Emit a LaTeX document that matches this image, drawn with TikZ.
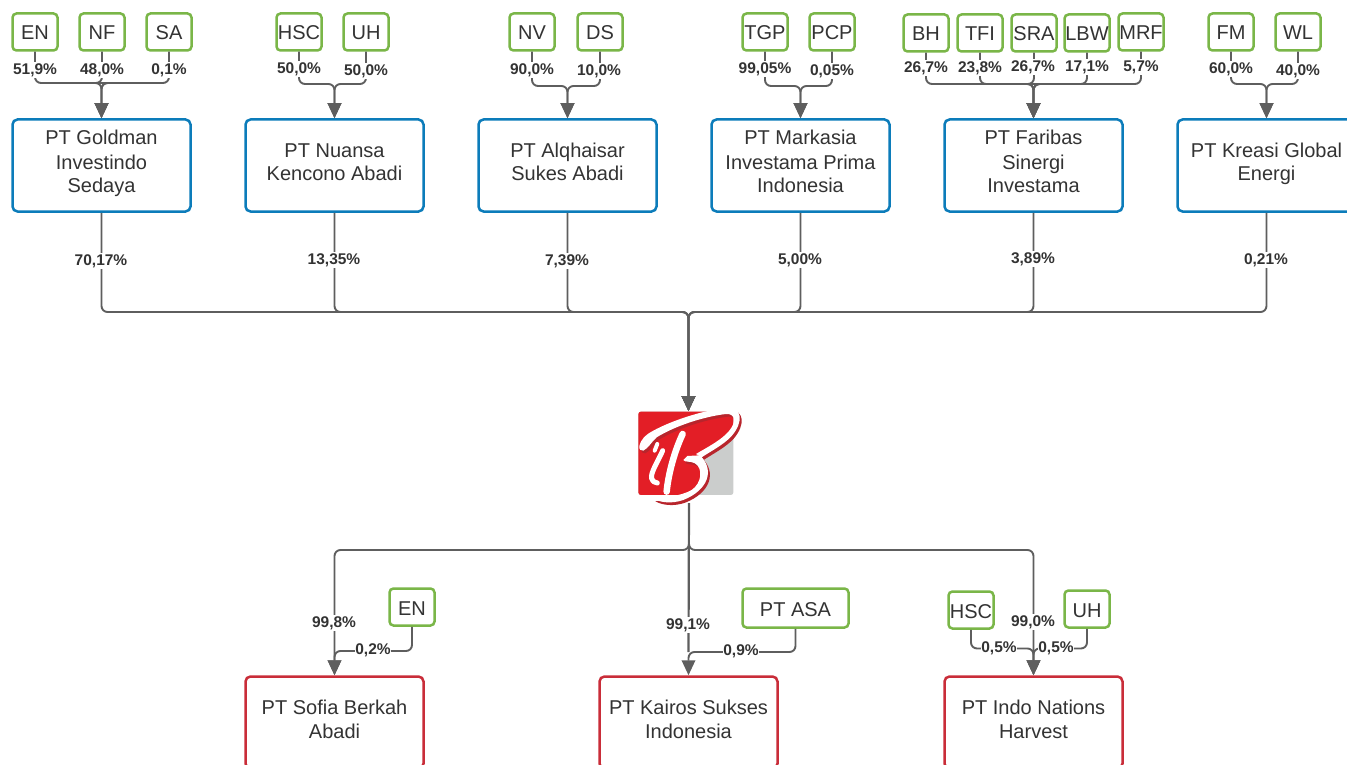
\documentclass[tikz,border=0pt]{standalone}
\usepackage{fontspec}
\setmainfont{Liberation Sans}
\usetikzlibrary{arrows.meta}
\definecolor{gbox}{HTML}{7AB648}
\definecolor{bbox}{HTML}{0C7CBA}
\definecolor{rbox}{HTML}{C92D39}
\definecolor{ink}{HTML}{333333}
\definecolor{wire}{HTML}{5E5E5E}
\definecolor{lred}{HTML}{E31E26}
\definecolor{lshade}{HTML}{B8252C}
\definecolor{lgrey}{HTML}{CBCDCC}
\newcommand{\tx}{\rule{0pt}{15pt}}
\newcommand{\bx}{\rule[-8pt]{0pt}{8pt}}
\newcommand{\bandA}{(118,438) .. controls (122,420) and (135,405) .. (160,392) .. controls (215,362) and (310,330) .. (385,323) .. controls (425,322) and (432,365) .. (395,408) .. controls (370,435) and (335,452) .. (305,472) -- (288,462) .. controls (325,440) and (365,420) .. (388,392) .. controls (410,365) and (405,340) .. (378,342) .. controls (310,350) and (225,378) .. (170,412) .. controls (155,425) and (145,445) .. (130,452) .. controls (122,454) and (117,448) .. (118,438) -- cycle}
\newcommand{\bandB}{(262,468) -- (300,466) .. controls (345,510) and (325,570) .. (250,600) .. controls (215,612) and (182,608) .. (160,596) .. controls (190,592) and (240,590) .. (275,570) .. controls (305,550) and (310,505) .. (285,490) .. controls (270,482) and (255,488) .. (250,480) -- cycle}
\tikzset{
 x=1pt,y=-1pt,
 every node/.style={text=ink,font=\fontsize{20}{24}\selectfont,align=center,inner sep=0pt},
 owner/.style={draw=gbox,line width=2.5pt,rounded corners=4pt,minimum width=45pt,minimum height=37pt,fill=white,text height=16pt,text depth=0pt},
 hold/.style={draw=bbox,line width=2.5pt,rounded corners=5pt,minimum width=178pt,minimum height=92pt,fill=white},
 sub/.style={draw=rbox,line width=2.5pt,rounded corners=5pt,minimum width=178pt,minimum height=92pt,fill=white},
 pct/.style={font=\fontsize{15.5}{16}\bfseries\selectfont,fill=white,inner xsep=0.5pt,inner ysep=1.5pt,yshift=-2pt},
 conn/.style={draw=wire,line width=1.9pt,rounded corners=6pt},
 arr/.style={conn,-{Triangle[length=15pt,width=13.5pt]}},
}
\begin{document}
\begin{tikzpicture}
\useasboundingbox (0,0) rectangle (1347,765);
\clip (0,0) rectangle (1347,765);
% holding boxes
\node[hold] (gold) at (101.5,165.5) {\tx PT Goldman\\Investindo\\Sedaya\bx};
\node[hold] (nuansa) at (334.5,165.5) {\tx PT Nuansa\\Kencono Abadi\bx};
\node[hold] (alq) at (567.5,165.5) {\tx PT Alqhaisar\\Sukes Abadi\bx};
\node[hold] (mark) at (800.5,165.5) {\tx PT Markasia\\Investama Prima\\Indonesia\bx};
\node[hold] (fari) at (1033.5,165.5) {\tx PT Faribas\\Sinergi\\Investama\bx};
\node[hold] (kreasi) at (1266.5,165.5) {\tx PT Kreasi Global\\Energi\bx};
% owners
\foreach \n/\t/\x/\y in {a1/EN/35/32,a2/NF/102/32,a3/SA/169/32,b1/HSC/299/32,b2/UH/366/32,c1/NV/532/32,c2/DS/600/32,d1/TGP/765/32,d2/PCP/832/32,e1/BH/926/33,e2/TFI/980/33,e3/SRA/1034/33,e4/LBW/1087/33,e5/MRF/1141/32,f1/FM/1231/32,f2/WL/1298/32}
  \node[owner] (\n) at (\x,\y) {\t};
% junctions
\coordinate (ja) at (101.5,83);
\coordinate (jb) at (334.5,84);
\coordinate (jc) at (567.5,86);
\coordinate (jd) at (800.5,86);
\coordinate (je) at (1033.5,84);
\coordinate (jf) at (1266.5,84);
\coordinate (bus) at (688.5,312);
\coordinate (lgt) at (688.5,411);
\coordinate (lgb) at (689,503);
\coordinate (low) at (689,550);
% owner wires
\foreach \s/\j/\t in {a1/ja/gold,a2/ja/gold,a3/ja/gold,b1/jb/nuansa,b2/jb/nuansa,c1/jc/alq,c2/jc/alq,d1/jd/mark,d2/jd/mark,e1/je/fari,e2/je/fari,e3/je/fari,e4/je/fari,e5/je/fari,f1/jf/kreasi,f2/jf/kreasi}
  \draw[arr] (\s.south) |- (\j) -- (\t.north);
% bus to logo
\foreach \t in {gold,nuansa,alq,mark,fari,kreasi}
  \draw[arr] (\t.south) |- (bus) -- (lgt);
% logo
\begin{scope}[shift={(600,300)},x=0.3333pt,y=-0.3333pt]
 \fill[rounded corners=2.5pt,lgrey] (115,335) rectangle (400,585);
 \fill[lred,rounded corners=2.5pt] (115,335) -- (400,335) -- (400,415) -- (305,470) -- (318,530) -- (270,585) -- (115,585) -- cycle;
 \begin{scope}[shift={(6,8)}]
  \fill[lshade] \bandA;
  \fill[lshade] \bandB;
 \end{scope}
 \fill[white] \bandA;
 \fill[white] \bandB;
 \draw[white,line width=6.5pt,line cap=round] (248,402) .. controls (225,450) and (205,520) .. (200,575);
 \draw[white,line width=5pt,line cap=round] (188,452) .. controls (176,480) and (150,520) .. (155,535) .. controls (158,545) and (165,548) .. (172,549);
 \draw[white,line width=4pt,line cap=round] (172,432) -- (164,452);
\end{scope}
% lower
\coordinate (jg) at (334.5,651);
\coordinate (jh) at (688.5,652);
\coordinate (ji) at (1033.5,648.5);
\node[sub] (sofia) at (334.5,722.5) {\tx PT Sofia Berkah\\Abadi\bx};
\node[sub] (kairos) at (688.5,722.5) {\tx PT Kairos Sukses\\Indonesia\bx};
\node[sub] (indo) at (1033.5,722.5) {\tx PT Indo Nations\\Harvest\bx};
\node[owner] (g1) at (412,607) {EN};
\node[owner,minimum width=106pt,minimum height=39pt] (h1) at (795.5,608) {PT ASA};
\node[owner] (i1) at (971,610) {HSC};
\node[owner] (i2) at (1087,609) {UH};
\foreach \t in {sofia,indo}
  \draw[arr] (lgb) |- (\t.north |- low) -- (\t.north);
\draw[arr] (h1.south) |- (jh) -- (kairos.north);
\draw[conn,line width=2.2pt] (lgb) -- (jh);
\draw[arr] (g1.south) |- (jg) -- (sofia.north);
\draw[arr] (i1.south) |- (ji) -- (indo.north);
\draw[arr] (i2.south) |- (ji) -- (indo.north);
% percentages
\node[pct] (p01) at (35,68) {51,9\%};
\node[pct] (p02) at (102,68) {48,0\%};
\node[pct] (p03) at (169,68) {0,1\%};
\node[pct] (p04) at (299,67) {50,0\%};
\node[pct] (p05) at (366,69) {50,0\%};
\node[pct] (p06) at (532,68) {90,0\%};
\node[pct] (p07) at (599,69) {10,0\%};
\node[pct] (p08) at (765,67) {99,05\%};
\node[pct] (p09) at (832,69) {0,05\%};
\node[pct] (p10) at (926,66) {26,7\%};
\node[pct] (p11) at (980,66) {23,8\%};
\node[pct] (p12) at (1033,65) {26,7\%};
\node[pct] (p13) at (1087,65) {17,1\%};
\node[pct] (p14) at (1141,65) {5,7\%};
\node[pct] (p15) at (1231,67) {60,0\%};
\node[pct] (p16) at (1298,69) {40,0\%};
\node[pct] (q1) at (101,259) {70,17\%};
\node[pct] (q2) at (334,258) {13,35\%};
\node[pct] (q3) at (567,259) {7,39\%};
\node[pct] (q4) at (800,258) {5,00\%};
\node[pct] (q5) at (1033,257) {3,89\%};
\node[pct] (q6) at (1266,258) {0,21\%};
\node[pct] (r1) at (334,621) {99,8\%};
\node[pct] (r2) at (373,648) {0,2\%};
\node[pct] (r3) at (688,623) {99,1\%};
\node[pct] (r4) at (741,649) {0,9\%};
\node[pct] (r5) at (1033,620) {99,0\%};
\node[pct] (r6) at (999,646) {0,5\%};
\node[pct] (r7) at (1056,646) {0,5\%};
\end{tikzpicture}
\end{document}
